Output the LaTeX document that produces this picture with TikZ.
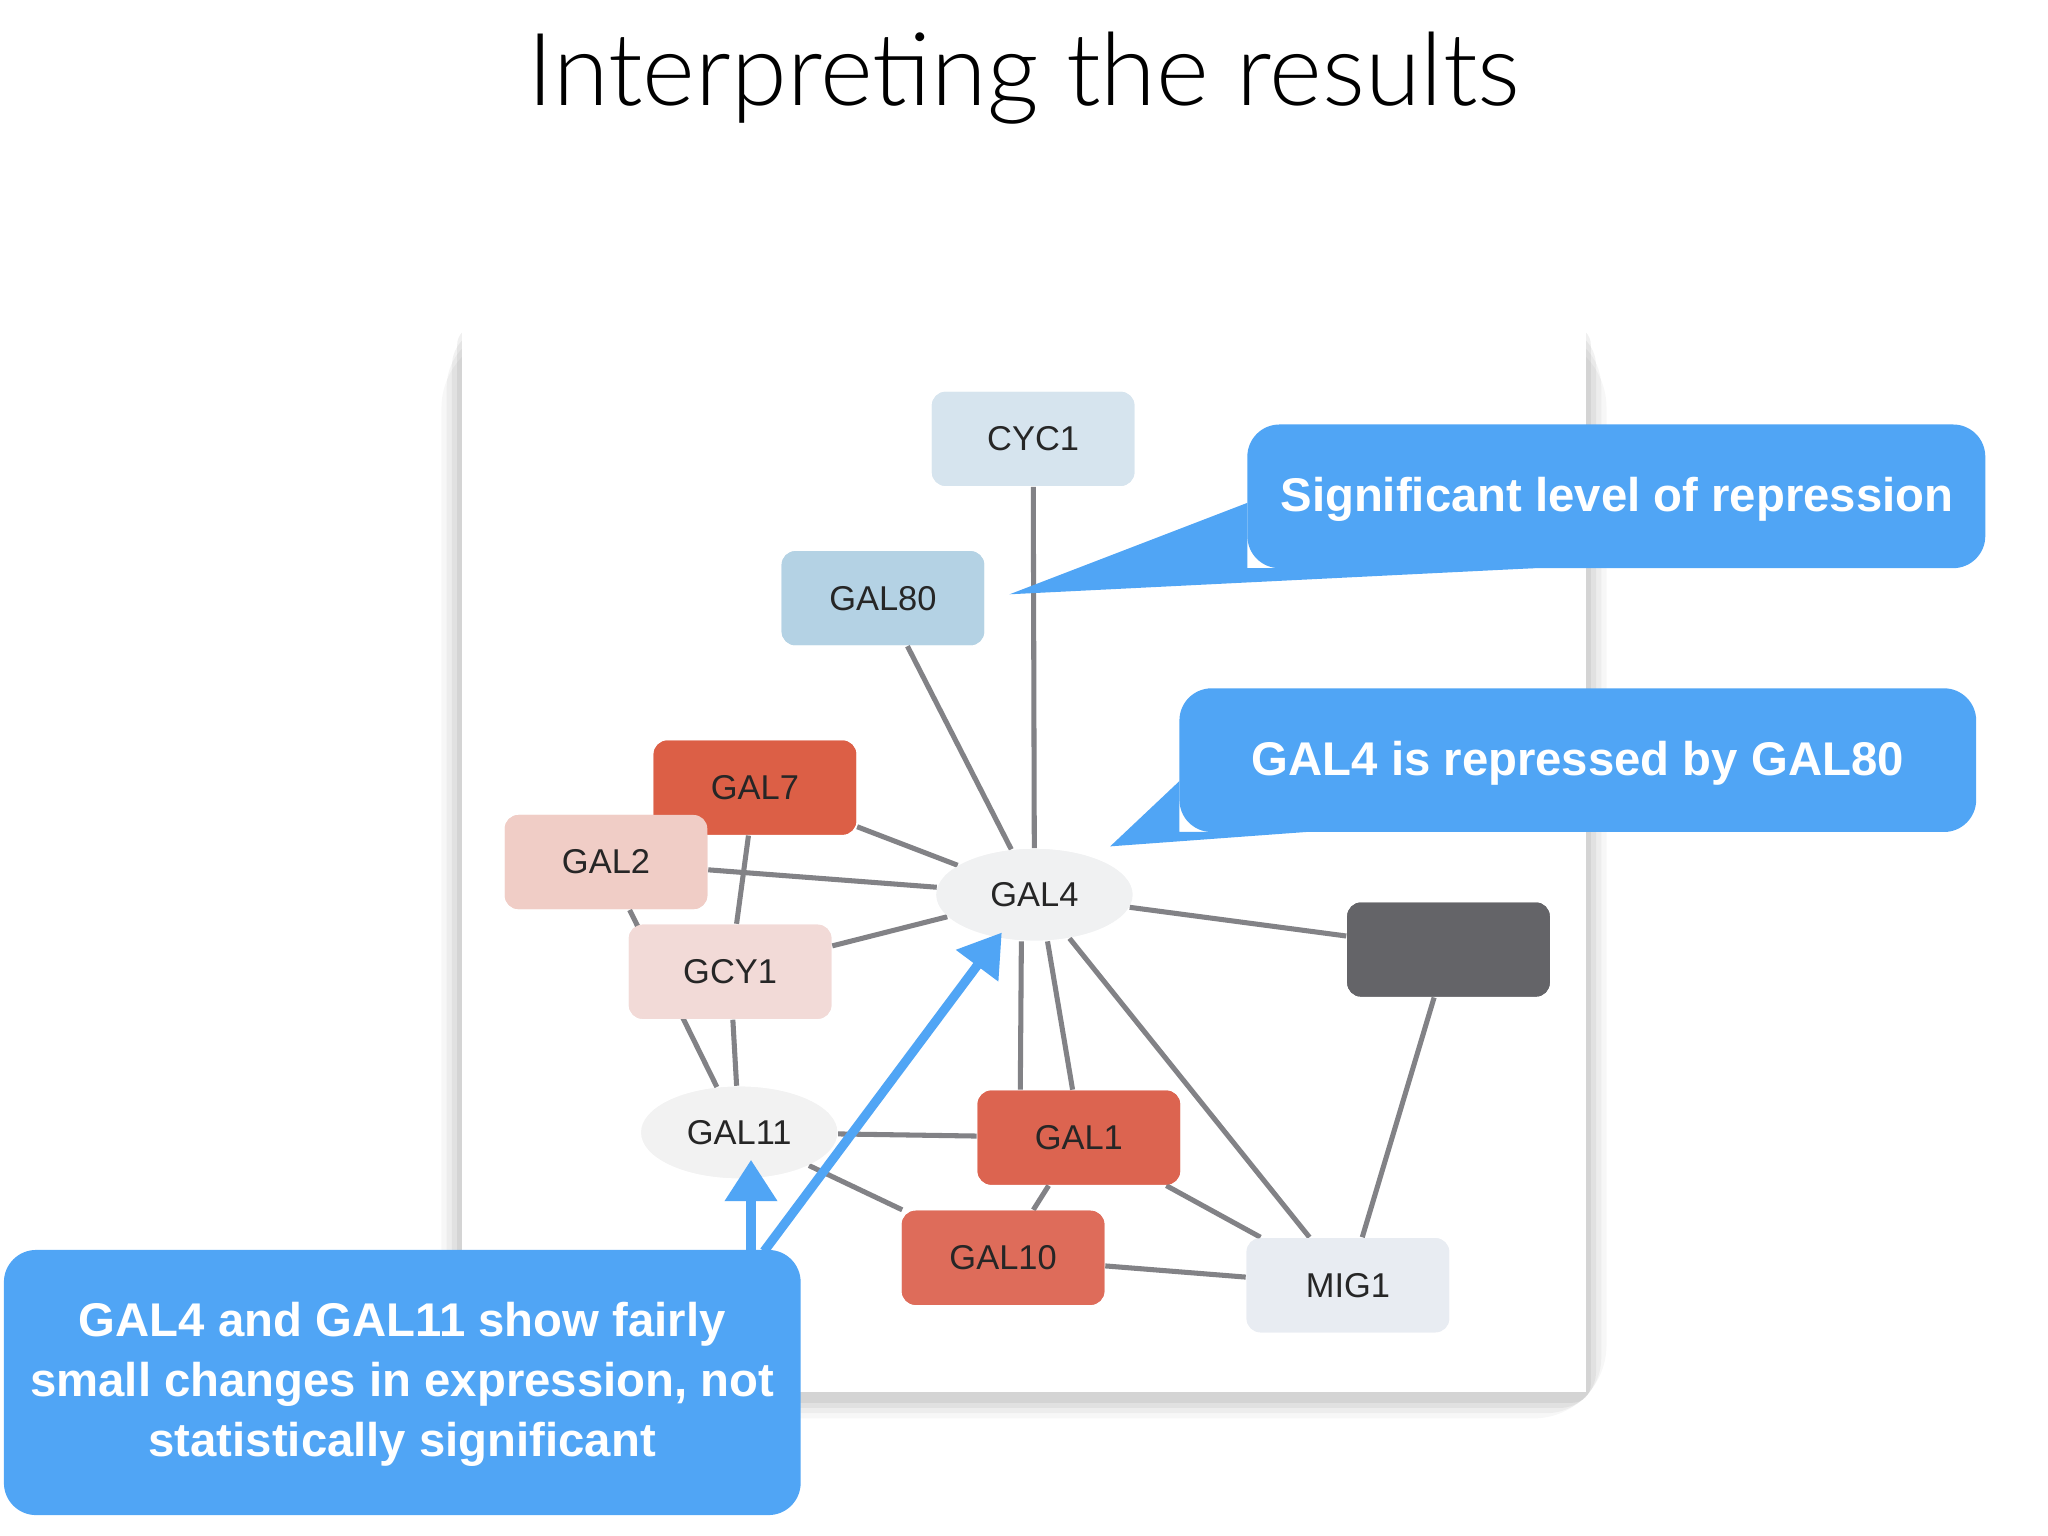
\documentclass[tikz,border=0pt]{standalone}
\usepackage{fontspec}
\setmainfont{Liberation Sans}
\newfontfamily\titlefont{Lato Light}
\usetikzlibrary{shapes.geometric,arrows.meta}
\definecolor{callblue}{RGB}{80,165,245}
\definecolor{edgegray}{RGB}{130,130,134}
\begin{document}
\begin{tikzpicture}[x=0.01cm,y=-0.01cm,
  gene/.style={rectangle,rounded corners=3pt,minimum width=1.55cm,minimum height=0.72cm,
    font=\fontsize{7.5}{9}\selectfont,text=black!85},
  blob/.style={ellipse,minimum width=1.5cm,minimum height=0.7cm,
    font=\fontsize{7.5}{9}\selectfont,text=black!85},
  link/.style={draw=edgegray,line width=1.1pt},
  call/.style={fill=callblue,draw=none},
  calltext/.style={text=white,font=\bfseries\fontsize{10.3}{13}\selectfont,align=center},
  pointer/.style={draw=callblue,line width=2pt,-{Triangle[length=9pt,width=11pt]}}]
\useasboundingbox (0,0) rectangle (1568,1176);
\node[font=\titlefont\fontsize{22}{26}\selectfont] (title) at (784,60) {Interpreting the results};
% panel with shadow
\foreach \s/\o in {16/0.03,12/0.04,8/0.05,4/0.06}{
  \fill[black,opacity=\o,rounded corners=\s] (354-\s,248+\s/2) rectangle (1214+\s,1066+\s+4);
}
\fill[white] (354,248) rectangle (1214,1066);
% nodes
\node[gene,fill={rgb,255:red,214;green,228;blue,238}] (cyc1) at (791,336) {CYC1};
\node[gene,fill={rgb,255:red,180;green,210;blue,228}] (gal80) at (676,458) {GAL80};
\node[blob,fill={rgb,255:red,240;green,241;blue,242}] (gal4) at (792,685) {GAL4};
\node[gene,fill={rgb,255:red,100;green,100;blue,104}] (dark) at (1109,727) {};
\node[gene,fill={rgb,255:red,222;green,108;blue,90}] (gal10) at (768,963) {GAL10};
\node[gene,fill={rgb,255:red,232;green,236;blue,242}] (mig1) at (1032,984) {MIG1};
\node[gene,fill={rgb,255:red,220;green,100;blue,80}] (gal1) at (826,871) {GAL1};
\node[blob,fill={rgb,255:red,242;green,242;blue,242}] (gal11) at (566,867) {GAL11};
\node[gene,fill={rgb,255:red,242;green,218;blue,215}] (gcy1) at (559,744) {GCY1};
\node[gene,fill={rgb,255:red,220;green,95;blue,70}] (gal7) at (578,603) {GAL7};
\node[gene,fill={rgb,255:red,240;green,205;blue,198}] (gal2) at (464,660) {GAL2};
% edges
\foreach \a/\b in {cyc1/gal4,gal80/gal4,gal7/gal4,gal2/gal4,gcy1/gal4,gal4/dark,gal4/mig1,
  gal7/gcy1,gal2/gal11,gcy1/gal11,gal11/gal1,gal11/gal10,gal1/gal10,gal1/mig1,gal10/mig1,dark/mig1}{
  \path[link] (\a) -- (\b);
}
\path[link] ([xshift=-0.1cm]gal4.south) -- ([xshift=-1.23cm]gal1.north east);
\path[link] ([xshift=0.1cm]gal4.south) -- ([xshift=-0.83cm]gal1.north east);
% redraw nodes above edges
\node[gene,fill={rgb,255:red,214;green,228;blue,238}] at (cyc1) {CYC1};
\node[gene,fill={rgb,255:red,180;green,210;blue,228}] at (gal80) {GAL80};
\node[blob,fill={rgb,255:red,240;green,241;blue,242}] at (gal4) {GAL4};
\node[gene,fill={rgb,255:red,100;green,100;blue,104}] at (dark) {};
\node[gene,fill={rgb,255:red,222;green,108;blue,90}] at (gal10) {GAL10};
\node[gene,fill={rgb,255:red,232;green,236;blue,242}] at (mig1) {MIG1};
\node[gene,fill={rgb,255:red,220;green,100;blue,80}] at (gal1) {GAL1};
\node[blob,fill={rgb,255:red,242;green,242;blue,242}] at (gal11) {GAL11};
\node[gene,fill={rgb,255:red,242;green,218;blue,215}] at (gcy1) {GCY1};
\node[gene,fill={rgb,255:red,220;green,95;blue,70}] at (gal7) {GAL7};
\node[gene,fill={rgb,255:red,240;green,205;blue,198}] at (gal2) {GAL2};
% callouts
\coordinate (tipa) at (773,455);
\coordinate (tipb) at (850,648);
\fill[call,rounded corners=7pt] (955,325) rectangle (1520,435);
\fill[call] (955,385) -- (tipa) -- (1175,435) -- (955,435) -- cycle;
\node[calltext] (calla) at (1238,382) {Significant level of repression};
\fill[call,rounded corners=7pt] (903,527) rectangle (1513,637);
\fill[call] (903,598) -- (tipb) -- (1000,637) -- (903,637) -- cycle;
\node[calltext] (callb) at (1208,584) {GAL4 is repressed by GAL80};
\fill[call,rounded corners=7pt] (3,957) rectangle (613,1160);
\node[calltext] (callc) at (308,1060) {GAL4 and GAL11 show fairly\\small changes in expression, not\\statistically significant};
\coordinate (basea) at (575,958);
\coordinate (baseb) at (585,958);
\coordinate (tipc) at (575,888);
\coordinate (tipd) at (767,714);
\draw[pointer] (basea) -- (tipc);
\draw[pointer] (baseb) -- (tipd);
\end{tikzpicture}
\end{document}
